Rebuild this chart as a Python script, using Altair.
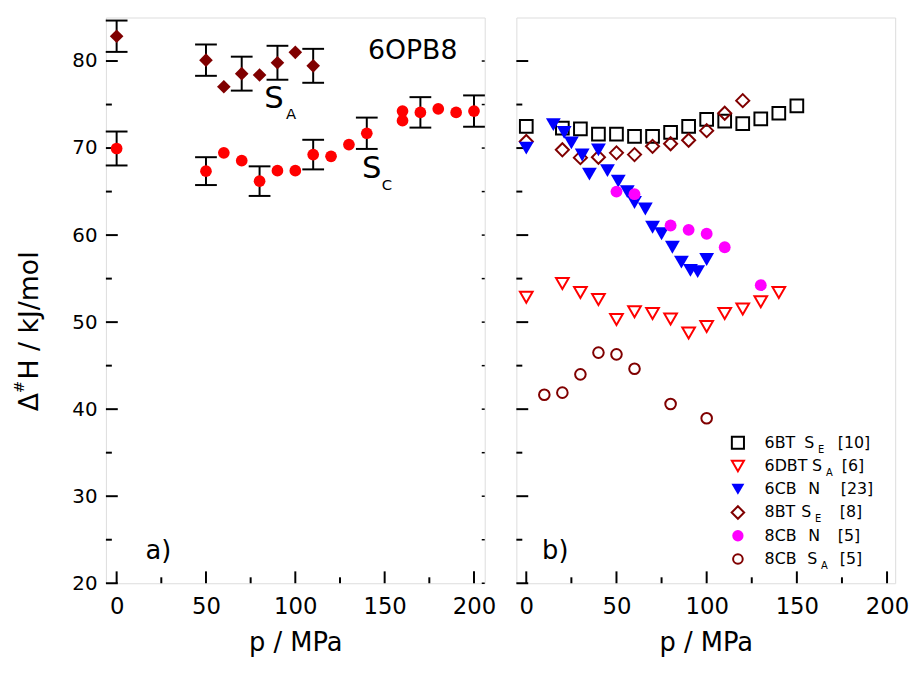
import altair as alt
import pandas as pd

FONT = "DejaVu Sans"
W, H = 383, 572
XDOM_A = [-6, 206]
XDOM_B = [-5.5, 204.5]
YDOM = [20, 85]

# ---------------- panel a) 6OPB8 ----------------
sa_p = [0, 50, 60, 70, 80, 90, 100, 110]
sa_h = [82.85, 80.1, 77.05, 78.55, 78.4, 79.8, 81.0, 79.45]
sa_err = [1.8, 1.8, 0, 1.95, 0, 1.95, 0, 1.95]

sc_p = [0, 50, 60, 70, 80, 90, 100, 110, 120, 130, 140, 160, 160, 170, 180, 190, 200]
sc_h = [69.95, 67.35, 69.45, 68.55, 66.2, 67.4, 67.4, 69.25, 69.05, 70.4, 71.7,
        74.25, 73.15, 74.1, 74.5, 74.1, 74.25]
sc_err = [1.95, 1.6, 0, 0, 1.7, 0, 0, 1.7, 0, 0, 1.8, 0, 0, 1.75, 0, 0, 1.8]

# ---------------- panel b) ----------------
bt6_p = [0, 20, 30, 40, 50, 60, 70, 80, 90, 100, 110, 120, 130, 140, 150]
bt6_h = [72.5, 72.3, 72.2, 71.6, 71.6, 71.35, 71.35, 71.8, 72.5, 73.3, 73.1, 72.8, 73.35, 74.0, 74.85]

dbt6_p = [0, 20, 30, 40, 50, 60, 70, 80, 90, 100, 110, 120, 130, 140]
dbt6_h = [52.85, 54.45, 53.4, 52.6, 50.3, 51.2, 51.0, 50.35, 48.75, 49.5, 51.0, 51.5, 52.35, 53.4]

cb6_p = [0, 15, 21, 25, 31, 35, 40, 45, 51, 56, 60, 66, 70, 75, 81, 86, 91, 95, 100]
cb6_h = [70.0, 72.7, 71.8, 70.6, 69.2, 67.0, 69.8, 67.4, 66.2, 65.0, 63.75, 63.0,
         60.9, 60.15, 58.6, 56.9, 55.95, 55.8, 57.2]

bt8_p = [0, 20, 30, 40, 50, 60, 70, 80, 90, 100, 110, 120]
bt8_h = [70.75, 69.8, 68.9, 68.95, 69.45, 69.25, 70.2, 70.5, 70.9, 72.0, 74.0, 75.45]

cb8n_p = [50, 60, 80, 90, 100, 110, 130]
cb8n_h = [65.0, 64.7, 61.1, 60.6, 60.15, 58.6, 54.25]

cb8a_p = [10, 20, 30, 40, 50, 60, 80, 100]
cb8a_h = [41.65, 41.9, 44.0, 46.5, 46.3, 44.65, 40.6, 38.95]

# legend text
leg_name = ["6BT", "6DBT", "6CB", "8BT", "8CB", "8CB"]
leg_phase = ["S", "S", "N", "S", "N", "S"]
leg_sub = ["E", "A", "", "E", "", "A"]
leg_ref = ["[10]", "[6]", "[23]", "[8]", "[5]", "[5]"]

# axis ticks
x_major = [0, 50, 100, 150, 200]
x_minor = [25, 75, 125, 175]
y_major = [20, 30, 40, 50, 60, 70, 80]
y_minor = [25, 35, 45, 55, 65, 75]

MAROON = "#800000"


def xenc(dom):
    return alt.X("p:Q", scale=alt.Scale(domain=dom, nice=False, zero=False),
                 axis=alt.Axis(values=x_major, ticks=False, tickSize=0, domain=False, grid=False,
                               labelFontSize=23, labelPadding=13, labelFlush=False,
                               labelFont=FONT, labelColor="black",
                               title="p / MPa", titleFontSize=26, titlePadding=11,
                               titleFont=FONT, titleColor="black", titleFontWeight="normal"))


def yenc(show):
    if show:
        ax = alt.Axis(values=y_major, ticks=False, tickSize=0, domain=False, grid=False,
                      labelFontSize=20, labelPadding=9, labelFont=FONT, labelColor="black",
                      title=None)
    else:
        ax = None
    return alt.Y("h:Q", scale=alt.Scale(domain=YDOM, nice=False, zero=False), axis=ax)


def text(txt, x, y, size, align="left", baseline="middle", angle=0):
    return alt.Chart(pd.DataFrame({"t": [txt]})).mark_text(
        align=align, baseline=baseline, fontSize=size, font=FONT, angle=angle, color="black"
    ).encode(x=alt.value(x), y=alt.value(y), text="t:N")


def tick_layers(X, Y, right_ticks):
    L = []
    L.append(alt.Chart(pd.DataFrame({"p": x_major})).mark_rule(color="black", strokeWidth=2)
             .encode(x=X, y=alt.value(H), y2=alt.value(H - 12)))
    L.append(alt.Chart(pd.DataFrame({"p": x_minor})).mark_rule(color="black", strokeWidth=2)
             .encode(x=X, y=alt.value(H), y2=alt.value(H - 6)))
    L.append(alt.Chart(pd.DataFrame({"h": y_major})).mark_rule(color="black", strokeWidth=2)
             .encode(y=Y, x=alt.value(0), x2=alt.value(12)))
    L.append(alt.Chart(pd.DataFrame({"h": y_minor})).mark_rule(color="black", strokeWidth=2)
             .encode(y=Y, x=alt.value(0), x2=alt.value(6)))
    if right_ticks:
        L.append(alt.Chart(pd.DataFrame({"h": y_major + y_minor})).mark_rule(color="black", strokeWidth=1.5)
                 .encode(y=Y, x=alt.value(W), x2=alt.value(W - 3)))
    return L


def errbars(X, Y, ps, hs, es):
    rows = [(p, h - e, h + e) for p, h, e in zip(ps, hs, es) if e > 0]
    df = pd.DataFrame(rows, columns=["p", "h", "h2"])
    caps = pd.DataFrame([(p, lo) for p, lo, hi in rows] + [(p, hi) for p, lo, hi in rows],
                        columns=["p", "h"])
    bar = alt.Chart(df).mark_rule(color="black", strokeWidth=2).encode(x=X, y=Y, y2="h2:Q")
    cap = alt.Chart(caps).mark_rule(color="black", strokeWidth=2, xOffset=-11, x2Offset=11) \
        .encode(x=X, x2="p:Q", y=Y)
    return [bar, cap]


# ---------------- build panel a ----------------
Xa, Ya = xenc(XDOM_A), yenc(True)
la = []
la += tick_layers(Xa, Ya, True)
la += errbars(Xa, Ya, sa_p, sa_h, sa_err)
la += errbars(Xa, Ya, sc_p, sc_h, sc_err)
la.append(alt.Chart(pd.DataFrame({"p": sc_p, "h": sc_h})).mark_point(
    shape="circle", filled=True, color="#ff0000", size=140, opacity=1).encode(x=Xa, y=Ya))
la.append(alt.Chart(pd.DataFrame({"p": sa_p, "h": sa_h})).mark_point(
    shape="diamond", filled=True, color=MAROON, size=190, opacity=1).encode(x=Xa, y=Ya))
la.append(text("6OPB8", 265, 34, 27))
la.append(text("S", 160, 82, 31))
la.append(text("A", 182, 98, 15))
la.append(text("S", 259, 153, 31))
la.append(text("C", 279, 169, 15))
la.append(text("a)", 40, 539, 26))
# y title  (Δ#H / kJ/mol)
la.append(text("Δ", -77, 398, 27, angle=270))
la.append(text("#", -88, 380, 15, angle=270))
la.append(text("H / kJ/mol", -77, 366, 27, angle=270))
left = alt.layer(*la).properties(width=W, height=H)

# ---------------- build panel b ----------------
Xb, Yb = xenc(XDOM_B), yenc(False)
lb = []
lb += tick_layers(Xb, Yb, False)
lb.append(alt.Chart(pd.DataFrame({"p": cb8a_p, "h": cb8a_h})).mark_point(
    shape="circle", filled=False, color=MAROON, size=115, strokeWidth=2, opacity=1).encode(x=Xb, y=Yb))
lb.append(alt.Chart(pd.DataFrame({"p": dbt6_p, "h": dbt6_h})).mark_point(
    shape="triangle-down", filled=False, color="#ff0000", size=165, strokeWidth=2, opacity=1).encode(x=Xb, y=Yb))
lb.append(alt.Chart(pd.DataFrame({"p": bt6_p, "h": bt6_h})).mark_point(
    shape="square", filled=False, color="black", size=165, strokeWidth=2, opacity=1).encode(x=Xb, y=Yb))
lb.append(alt.Chart(pd.DataFrame({"p": bt8_p, "h": bt8_h})).mark_point(
    shape="diamond", filled=False, color=MAROON, size=175, strokeWidth=2, opacity=1).encode(x=Xb, y=Yb))
lb.append(alt.Chart(pd.DataFrame({"p": cb6_p, "h": cb6_h})).mark_point(
    shape="triangle-down", filled=True, color="#0000ff", size=225, opacity=1).encode(x=Xb, y=Yb))
lb.append(alt.Chart(pd.DataFrame({"p": cb8n_p, "h": cb8n_h})).mark_point(
    shape="circle", filled=True, color="#ff00ff", size=144, opacity=1).encode(x=Xb, y=Yb))
lb.append(text("b)", 26, 539, 26))

# legend (manual, with subscripts)
sym_styles = [
    dict(shape="square", filled=False, color="black", size=150, strokeWidth=2),
    dict(shape="triangle-down", filled=False, color="#ff0000", size=150, strokeWidth=2),
    dict(shape="triangle-down", filled=True, color="#0000ff", size=170),
    dict(shape="diamond", filled=False, color=MAROON, size=160, strokeWidth=2),
    dict(shape="circle", filled=True, color="#ff00ff", size=130),
    dict(shape="circle", filled=False, color=MAROON, size=95, strokeWidth=2),
]
phase_x = [291, 299, 295, 288, 295, 294]
ref_x = [325, 329, 328, 327, 325, 327]
LEG_Y0, LEG_DY, LEG_SX, LEG_TX = 430, 23.5, 224, 251
for i in range(6):
    ry = LEG_Y0 + LEG_DY * i
    lb.append(alt.Chart(pd.DataFrame({"k": [leg_name[i]]})).mark_point(opacity=1, **sym_styles[i])
              .encode(x=alt.value(LEG_SX), y=alt.value(ry)))
    lb.append(text(leg_name[i], LEG_TX, ry, 16))
    lb.append(text(leg_phase[i], phase_x[i], ry, 16))
    if leg_sub[i]:
        lb.append(text(leg_sub[i], phase_x[i] + 14, ry + 7, 10))
    lb.append(text(leg_ref[i], ref_x[i], ry, 16))
right = alt.layer(*lb).properties(width=W, height=H)

chart = alt.hconcat(left, right, spacing=18).properties(
    padding={"left": 3, "top": 5, "right": 0, "bottom": 0}
).configure_view(stroke="black", strokeWidth=2).configure(font=FONT)

chart.save("out.html", embed_options={"renderer": "svg", "actions": False})
